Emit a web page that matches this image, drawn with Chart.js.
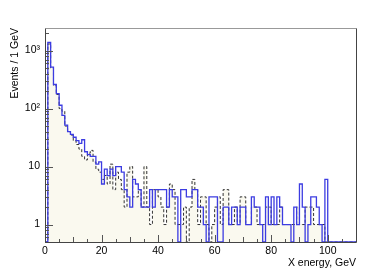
<!DOCTYPE html>
<html>
<head>
<meta charset="utf-8">
<script src="https://cdn.jsdelivr.net/npm/chart.js@4.4.0/dist/chart.umd.min.js"></script>
<style>
  html, body { margin: 0; padding: 0; background: #fff; }
  #wrap { width: 374px; height: 278px; }
</style>
</head>
<body>
<div id="wrap"><canvas id="chart"></canvas></div>
<script>
// Histogram range, 1 GeV bins
const xMin = 0;
const xMax = 110;
const yMin = 0.5;
const yMax = 2450;
const xTicks = [0, 20, 40, 60, 80, 100];
const yTicks = [1, 10, 100, 1000];
const yTickLabels = ['1', '10', '10\u00b2', '10\u00b3'];

// Blue solid histogram, events per bin (bins 0..109)
const blueCounts = [
  0, 1380, 520, 260, 181, 114, 76, 52, 40, 36,
  32, 28, 25, 29, 18, 16, 15, 15, 11, 12,
  5, 9, 7, 9, 7, 10, 10, 8, 4, 3,
  2, 6, 5, 4, 2, 2, 2, 4, 2, 4,
  4, 4, 4, 2, 4, 3, 3, 0, 4, 4,
  3, 3, 4, 4, 2, 2, 1, 0, 3, 3,
  3, 0, 0, 2, 2, 1, 2, 2, 1, 2,
  2, 1, 1, 3, 2, 2, 1, 0, 3, 1,
  3, 1, 3, 2, 1, 1, 1, 0, 2, 1,
  5, 2, 0, 1, 3, 3, 2, 1, 0, 6,
  0, 0, 0, 0, 0, 0, 0, 0, 0, 0
];

// Filled dashed histogram, events per bin (bins 0..109)
const filledCounts = [
  0, 1300, 500, 250, 175, 100, 90, 50, 40, 35,
  28, 24, 20, 15, 13, 17, 19, 12, 9, 8,
  6, 7, 5, 11, 4, 8, 6, 4, 2, 8,
  10, 3, 3, 4, 2, 10, 2, 1, 4, 4,
  3, 2, 1, 2, 5, 4, 1, 1, 1, 2,
  0, 2, 6, 4, 1, 3, 3, 1, 0, 1,
  2, 3, 1, 4, 4, 1, 1, 2, 1, 3,
  3, 1, 1, 2, 2, 1, 1, 1, 2, 2,
  1, 1, 1, 2, 1, 1, 1, 1, 1, 2,
  1, 1, 2, 2, 2, 1, 1, 1, 1, 0,
  0, 0, 0, 0, 0, 0, 0, 0, 0, 0
];

// Turn bin contents into step points (left edges + closing right edge).
// Empty bins sit on the frame bottom, as ROOT draws them on a log axis.
function toSteps(counts) {
  const pts = counts.map((c, i) => ({ x: xMin + i, y: c > 0 ? c : yMin }));
  pts.push({ x: xMin + counts.length, y: pts[pts.length - 1].y });
  return pts;
}

// ROOT-style frame with ticks drawn inside
const frameTicks = {
  id: 'frameTicks',
  afterDatasetsDraw(chart) {
    const { ctx, chartArea: a, scales: { x, y } } = chart;
    ctx.save();
    ctx.lineWidth = 1;
    ctx.strokeStyle = '#555';
    ctx.beginPath();
    for (let v = xMin; v <= xMax; v += 5) {
      const px = Math.round(x.getPixelForValue(v)) + 0.5;
      const len = v % 20 === 0 ? 7 : (v % 10 === 0 ? 5 : 3);
      ctx.moveTo(px, a.bottom);
      ctx.lineTo(px, a.bottom - len);
    }
    for (let d = 0.1; d < 10000; d *= 10) {
      for (let m = 1; m <= 9; m++) {
        const v = d * m;
        if (v < y.min || v > y.max) continue;
        const py = Math.round(y.getPixelForValue(v)) + 0.5;
        const len = m === 1 ? 8 : 4;
        ctx.moveTo(a.left, py);
        ctx.lineTo(a.left + len, py);
      }
    }
    ctx.stroke();
    const l = Math.round(a.left) + 0.5, t = Math.round(a.top) + 0.5;
    const r = Math.round(a.right) + 0.5, b = Math.round(a.bottom) + 0.5;
    ctx.strokeStyle = '#999';
    ctx.beginPath();
    ctx.moveTo(l, t); ctx.lineTo(r, t);
    ctx.stroke();
    ctx.strokeStyle = '#444';
    ctx.beginPath();
    ctx.moveTo(r, t); ctx.lineTo(r, b); ctx.lineTo(l, b); ctx.lineTo(l, t);
    ctx.stroke();
    ctx.restore();
  }
};

Chart.defaults.font.family = '"Liberation Sans", Arial, Helvetica, sans-serif';
Chart.defaults.color = '#000';

new Chart(document.getElementById('chart'), {
  type: 'line',
  data: {
    datasets: [{
      label: 'blue',
      data: toSteps(blueCounts),
      stepped: 'before',
      borderColor: 'rgb(60, 60, 225)',
      borderWidth: 1.3,
      pointRadius: 0,
      fill: false,
      order: 0
    }, {
      label: 'filled',
      data: toSteps(filledCounts),
      stepped: 'before',
      borderColor: '#333',
      borderWidth: 1,
      borderDash: [3, 2],
      backgroundColor: 'rgb(250, 249, 239)',
      pointRadius: 0,
      fill: 'start',
      order: 1
    }]
  },
  options: {
    responsive: true,
    maintainAspectRatio: false,
    animation: false,
    layout: { padding: { left: 0, top: 28, right: 18, bottom: 0 } },
    plugins: {
      legend: { display: false },
      tooltip: { enabled: false }
    },
    scales: {
      x: {
        type: 'linear',
        min: xMin,
        max: xMax,
        afterBuildTicks: s => { s.ticks = xTicks.map(v => ({ value: v })); },
        afterFit: s => { s.height = 36; },
        grid: { display: false, drawTicks: false },
        border: { display: false },
        ticks: { padding: 3, maxRotation: 0, font: { size: 10.5 } },
        title: {
          display: true,
          text: 'X energy, GeV',
          align: 'end',
          font: { size: 10.5 },
          padding: { top: 0, bottom: 9 }
        }
      },
      y: {
        type: 'logarithmic',
        min: yMin,
        max: yMax,
        afterBuildTicks: s => { s.ticks = yTicks.map(v => ({ value: v })); },
        afterFit: s => { s.width = 45; },
        grid: { display: false, drawTicks: false },
        border: { display: false },
        ticks: {
          padding: 5,
          font: { size: 10.5 },
          callback: v => yTickLabels[yTicks.indexOf(v)]
        },
        title: {
          display: true,
          text: 'Events / 1 GeV',
          align: 'end',
          font: { size: 10.5 },
          padding: { top: 9, bottom: 0 }
        }
      }
    }
  },
  plugins: [frameTicks]
});
</script>
</body>
</html>
